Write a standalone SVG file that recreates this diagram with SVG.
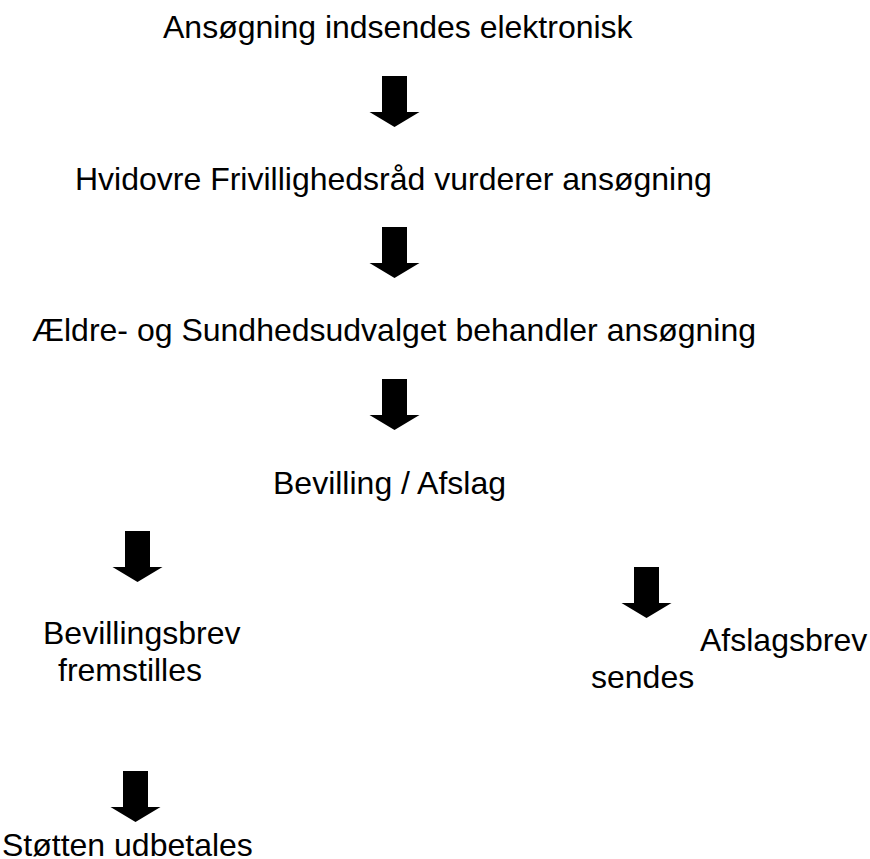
<svg xmlns="http://www.w3.org/2000/svg" xmlns:xlink="http://www.w3.org/1999/xlink" width="870" height="859" viewBox="0 0 870 859">
<style>
text{font-family:"Liberation Sans",Arial,sans-serif;font-size:32px;fill:#000}
.arr{fill:#000}
</style>
<defs>
<path id="arr" class="arr" d="M-12.5 -51H12.5V-15H25L0 0L-25 -15H-12.5Z"/>
</defs>
<rect width="870" height="859" fill="#fff"/>
<g id="n1"><text x="163" y="38">Ansøgning indsendes elektronisk</text></g>
<g id="n2"><text x="75" y="190">Hvidovre Frivillighedsråd vurderer ansøgning</text></g>
<g id="n3"><text x="32" y="341">Ældre- og Sundhedsudvalget behandler ansøgning</text></g>
<g id="n4"><text x="273" y="494">Bevilling / Afslag</text></g>
<g id="n5"><text x="43" y="644">Bevillingsbrev</text><text x="58" y="681">fremstilles</text></g>
<g id="n6"><text x="700" y="651">Afslagsbrev</text><text x="591" y="688">sendes</text></g>
<g id="n7"><text x="2" y="856">Støtten udbetales</text></g>
<g id="connectors">
<use xlink:href="#arr" x="394.5" y="127"/>
<use xlink:href="#arr" x="394.5" y="278"/>
<use xlink:href="#arr" x="394.5" y="430"/>
<use xlink:href="#arr" x="137.5" y="582"/>
<use xlink:href="#arr" x="646.5" y="618"/>
<use xlink:href="#arr" x="135.5" y="822"/>
</g>
</svg>
